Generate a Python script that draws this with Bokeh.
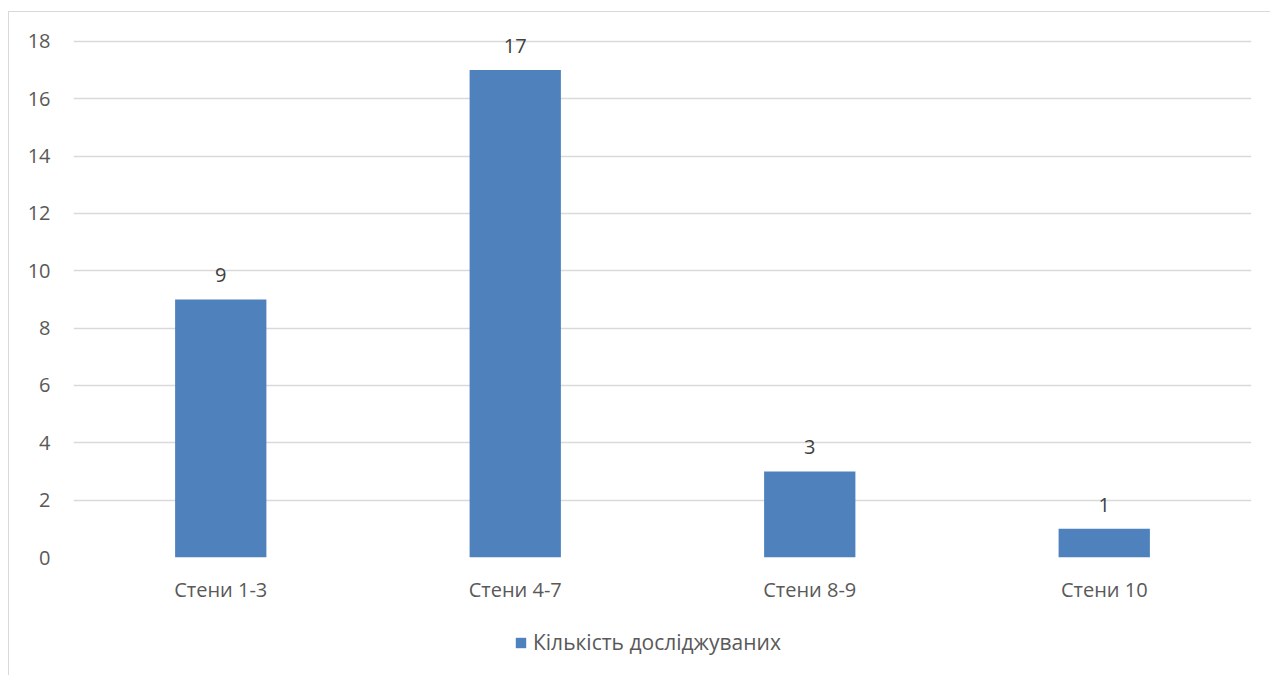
from bokeh.plotting import figure
from bokeh.layouts import column
from bokeh.models import ColumnDataSource, LabelSet, Legend, LegendItem, FixedTicker
from bokeh.core.properties import value
from bokeh.embed import file_html
from bokeh.resources import INLINE

categories = ["Стени 1-3", "Стени 4-7", "Стени 8-9", "Стени 10"]
values = [9, 17, 3, 1]
series_name = "Кількість досліджуваних"
y_ticks = [0, 2, 4, 6, 8, 10, 12, 14, 16, 18]

FONT = "Open Sans"
TXT = "#595959"
BAR = "#4F81BD"
GRID = "#D9D9D9"
FS = "20px"

src = ColumnDataSource(dict(cat=categories, val=values, lab=[str(v) for v in values]))

p = figure(width=1261, height=600, x_range=categories, y_range=(0, 18.1),
           output_backend="svg", toolbar_location=None,
           min_border_left=64, min_border_right=19, min_border_top=26, min_border_bottom=55)
p.outline_line_color = None
p.background_fill_color = "white"
p.border_fill_color = "white"

r = p.vbar(x="cat", top="val", width=0.31, source=src, fill_color=BAR, line_color=None)

p.yaxis.ticker = FixedTicker(ticks=y_ticks)
p.ygrid.ticker = FixedTicker(ticks=y_ticks)
p.xgrid.grid_line_color = None
p.ygrid.grid_line_color = GRID
p.ygrid.grid_line_width = 1.3

for ax in (p.xaxis, p.yaxis):
    ax.axis_line_color = None
    ax.major_tick_line_color = None
    ax.minor_tick_line_color = None
    ax.major_label_text_color = TXT
    ax.major_label_text_font = FONT
    ax.major_label_text_font_size = FS
p.yaxis.major_label_standoff = 17
p.xaxis.major_label_standoff = 12

labels = LabelSet(x="cat", y="val", text="lab", source=src, text_align="center",
                  text_baseline="bottom", y_offset=17, text_color="#404040",
                  text_font=value(FONT), text_font_size=value(FS))
p.add_layout(labels)

# legend strip below the chart: the same series drawn as zero-height bars far below the
# visible value range, so only the legend key is visible
lg = figure(width=1261, height=63, x_range=categories, y_range=(100, 101),
            output_backend="svg", toolbar_location=None,
            x_axis_location=None, y_axis_location=None,
            min_border_left=0, min_border_right=0, min_border_top=0, min_border_bottom=0)
lg.outline_line_color = None
lg.xgrid.grid_line_color = None
lg.ygrid.grid_line_color = None
lg.background_fill_color = "white"
lg.border_fill_color = "white"
key = lg.vbar(x="cat", top="val", bottom="val", width=0.31, source=src,
              fill_color=BAR, line_color=None)

legend = Legend(items=[LegendItem(label=series_name, renderers=[key])],
                location=(441, 19), orientation="horizontal",
                border_line_color=None, background_fill_alpha=0,
                label_text_font=FONT, label_text_font_size="21px", label_text_color=TXT,
                glyph_width=13, glyph_height=13, label_standoff=6, padding=0, margin=0)
lg.add_layout(legend, "center")

root = column(p, lg, spacing=0)
root.margin = (11, 0, 0, 8)
root.styles = {"border-top": "1px solid #D9D9D9", "border-left": "1px solid #D9D9D9"}

open("out.html", "w").write(file_html(root, INLINE))
